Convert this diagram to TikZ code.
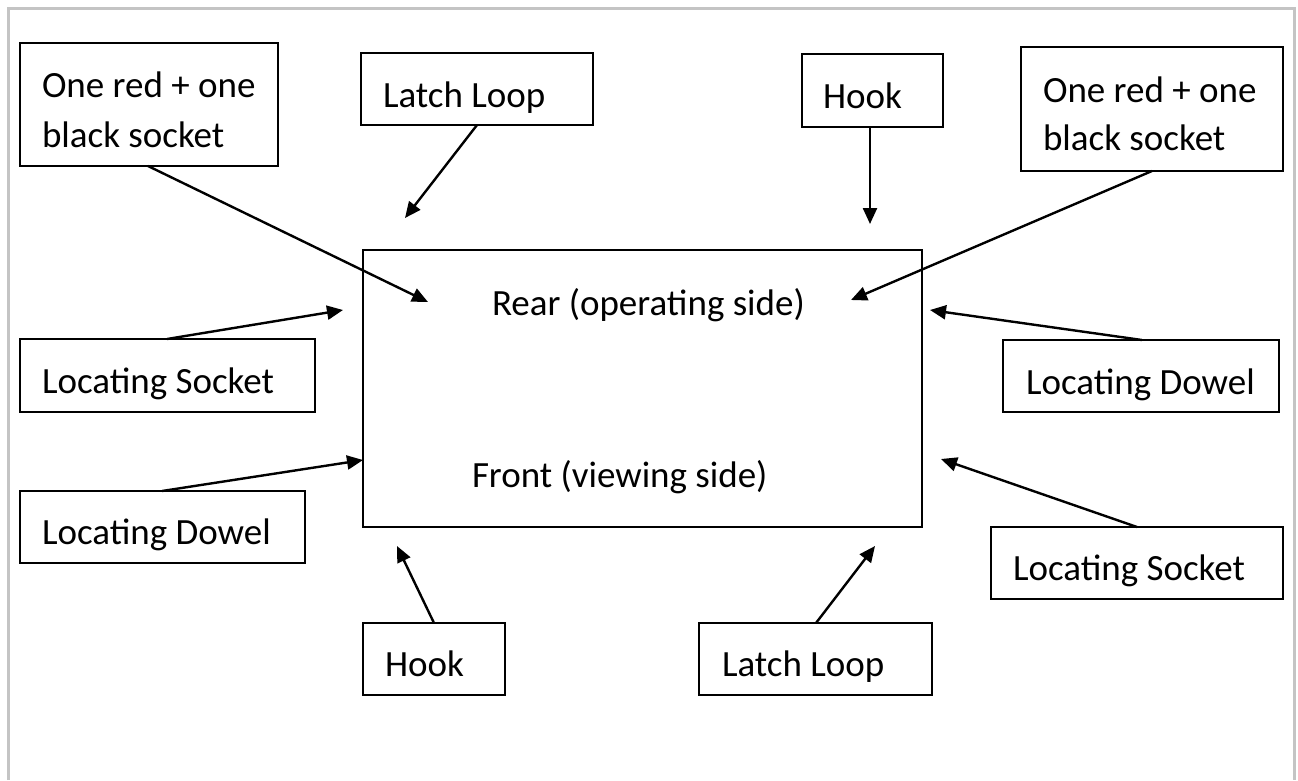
\documentclass[tikz,border=0pt]{standalone}
\usepackage{fontspec}
\setmainfont{Carlito}
\usetikzlibrary{arrows.meta}
\definecolor{framegrey}{RGB}{196,196,196}
\begin{document}
\begin{tikzpicture}[x=1pt,y=-1pt,
  box/.style={draw=black, line width=2.2pt, inner sep=0pt, outer sep=0pt, anchor=north west},
  lbl/.style={inner sep=0pt, outer sep=0pt, anchor=base west, font=\fontsize{37}{50}\selectfont},
  arr/.style={draw=black, line width=2.4pt, -{Triangle[length=16pt,width=14pt]}}
]
\useasboundingbox (0,0) rectangle (1298,780);
\draw[framegrey, line width=3pt] (8,780) -- (8,8) -- (1294,8) -- (1294,780);

% main box
\node[box, minimum width=559pt, minimum height=277pt] (M) at (363,250) {};
\node[lbl] (tRear) at (492,315) {Rear (operating side)};
\node[lbl] (tFront) at (472,487) {Front (viewing side)};

% boxes
\node[box, minimum width=258pt, minimum height=123pt] (A) at (20,43) {};
\node[lbl] (tA1) at (42,97) {One red + one};
\node[lbl] (tA2) at (42,147) {black socket};

\node[box, minimum width=232pt, minimum height=72pt] (B) at (361,53) {};
\node[lbl] (tB) at (383,107) {Latch Loop};

\node[box, minimum width=141pt, minimum height=73pt] (C) at (802,54) {};
\node[lbl] (tC) at (823,108) {Hook};

\node[box, minimum width=262pt, minimum height=124pt] (D) at (1021,47) {};
\node[lbl] (tD1) at (1043,102) {One red + one};
\node[lbl] (tD2) at (1043,150) {black socket};

\node[box, minimum width=295pt, minimum height=73pt] (E) at (20,339) {};
\node[lbl] (tE) at (42,393) {Locating Socket};

\node[box, minimum width=285pt, minimum height=72pt] (F) at (20,491) {};
\node[lbl] (tF) at (42,544) {Locating Dowel};

\node[box, minimum width=276pt, minimum height=72pt] (G) at (1003,340) {};
\node[lbl] (tG) at (1026,394) {Locating Dowel};

\node[box, minimum width=292pt, minimum height=72pt] (H) at (991,527) {};
\node[lbl] (tH) at (1013,580) {Locating Socket};

\node[box, minimum width=142pt, minimum height=72pt] (I) at (363,623) {};
\node[lbl] (tI) at (385,676) {Hook};

\node[box, minimum width=233pt, minimum height=72pt] (J) at (699,623) {};
\node[lbl] (tJ) at (722,676) {Latch Loop};

% arrow tips
\coordinate (pA) at (428,302);
\coordinate (pB) at (405,218);
\coordinate (pC) at (870,224);
\coordinate (pD) at (851,300);
\coordinate (pE) at (343,310);
\coordinate (pF) at (363,460);
\coordinate (pG) at (930,310);
\coordinate (pH) at (941,459);
\coordinate (pI) at (397,546);
\coordinate (pJ) at (875,546);

\draw[arr] (A.south west) ++(128,0) -- (pA);
\draw[arr] (B.south west) ++(116,0) -- (pB);
\draw[arr] (C.south west) ++(68,0) -- (pC);
\draw[arr] (D.south west) ++(131,0) -- (pD);
\draw[arr] (E.north west) ++(147,0) -- (pE);
\draw[arr] (F.north west) ++(142,0) -- (pF);
\draw[arr] (G.north west) ++(139,0) -- (pG);
\draw[arr] (H.north west) ++(146,0) -- (pH);
\draw[arr] (I.north west) ++(71,0) -- (pI);
\draw[arr] (J.north west) ++(117,0) -- (pJ);
\end{tikzpicture}
\end{document}
